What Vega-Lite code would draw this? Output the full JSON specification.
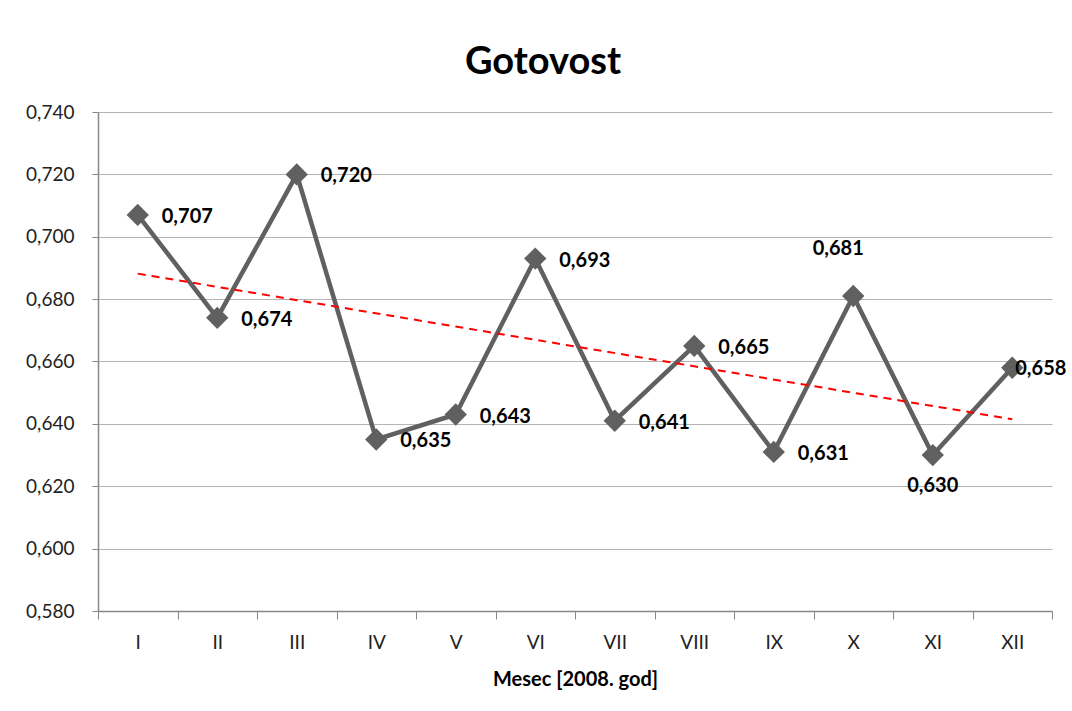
{
  "$schema": "https://vega.github.io/schema/vega-lite/v6.json",
  "width": 954,
  "height": 499,
  "autosize": {"type": "none"},
  "padding": {"left": 98, "top": 112, "right": 20, "bottom": 100},
  "background": "white",
  "title": {"text": "Gotovost", "fontSize": 38, "font": "Lato", "fontWeight": "bold", "color": "black", "anchor": "middle", "dx": -32, "offset": 21},
  "config": {
    "view": {"stroke": null},
    "font": "Lato",
    "locale": {"number": {"decimal": ",", "thousands": ".", "grouping": [3], "currency": ["", ""]}}
  },
  "datasets": {
    "d": [
      {"m": "I", "n": 1, "v": 0.707},
      {"m": "II", "n": 2, "v": 0.674},
      {"m": "III", "n": 3, "v": 0.720},
      {"m": "IV", "n": 4, "v": 0.635},
      {"m": "V", "n": 5, "v": 0.643},
      {"m": "VI", "n": 6, "v": 0.693},
      {"m": "VII", "n": 7, "v": 0.641},
      {"m": "VIII", "n": 8, "v": 0.665},
      {"m": "IX", "n": 9, "v": 0.631},
      {"m": "X", "n": 10, "v": 0.681},
      {"m": "XI", "n": 11, "v": 0.630},
      {"m": "XII", "n": 12, "v": 0.658}
    ]
  },
  "data": {"name": "d"},
  "encoding": {
    "x": {
      "field": "m", "type": "ordinal",
      "scale": {"type": "band", "paddingInner": 0, "paddingOuter": 0, "domain": ["I","II","III","IV","V","VI","VII","VIII","IX","X","XI","XII"]},
      "axis": {
        "title": "Mesec [2008. god]", "titleFont": "Lato", "titleFontSize": 20, "titleFontWeight": "bold", "titleColor": "black", "titlePadding": 17,
        "labelAngle": 0, "labelFont": "Lato", "labelFontSize": 19, "labelColor": "#222", "labelPadding": 14,
        "tickBand": "extent", "tickSize": 8, "tickColor": "#888", "domainColor": "#888", "domainWidth": 1.5, "grid": false
      }
    },
    "y": {
      "field": "v", "type": "quantitative",
      "scale": {"domain": [0.58, 0.74], "nice": false, "zero": false},
      "axis": {
        "title": null, "values": [0.58,0.60,0.62,0.64,0.66,0.68,0.70,0.72,0.74],
        "format": ".3f",
        "labelFont": "Lato", "labelFontSize": 19, "labelColor": "#222", "labelPadding": 18,
        "tickSize": 6, "tickColor": "#888", "domainColor": "#888", "domainWidth": 1.5,
        "grid": true, "gridColor": "#b4b4b4", "gridWidth": 1.2
      }
    }
  },
  "layer": [
    {
      "mark": {"type": "line", "color": "#606060", "strokeWidth": 4.5}
    },
    {
      "mark": {"type": "point", "shape": "diamond", "filled": true, "color": "#606060", "size": 500, "opacity": 1}
    },
    {
      "transform": [
        {"regression": "v", "on": "n"},
        {"lookup": "n", "from": {"data": {"name": "d"}, "key": "n", "fields": ["m"]}}
      ],
      "mark": {"type": "line", "color": "#ff0000", "strokeWidth": 2, "strokeDash": [8, 6]}
    },
    {
      "transform": [{"filter": "indexof(['X','XI','XII'], datum.m) < 0"}],
      "mark": {"type": "text", "align": "left", "baseline": "middle", "dx": 24, "dy": 2, "fontSize": 20, "fontWeight": "bold", "color": "black"},
      "encoding": {"text": {"field": "v", "type": "quantitative", "format": ".3f"}}
    },
    {
      "transform": [{"filter": "datum.m === 'X'"}],
      "mark": {"type": "text", "align": "center", "baseline": "middle", "dx": -15, "dy": -47, "fontSize": 20, "fontWeight": "bold", "color": "black"},
      "encoding": {"text": {"field": "v", "type": "quantitative", "format": ".3f"}}
    },
    {
      "transform": [{"filter": "datum.m === 'XI'"}],
      "mark": {"type": "text", "align": "center", "baseline": "middle", "dx": 0, "dy": 31, "fontSize": 20, "fontWeight": "bold", "color": "black"},
      "encoding": {"text": {"field": "v", "type": "quantitative", "format": ".3f"}}
    },
    {
      "transform": [{"filter": "datum.m === 'XII'"}],
      "mark": {"type": "text", "align": "left", "baseline": "middle", "dx": 3, "dy": 1, "fontSize": 20, "fontWeight": "bold", "color": "black"},
      "encoding": {"text": {"field": "v", "type": "quantitative", "format": ".3f"}}
    }
  ]
}
